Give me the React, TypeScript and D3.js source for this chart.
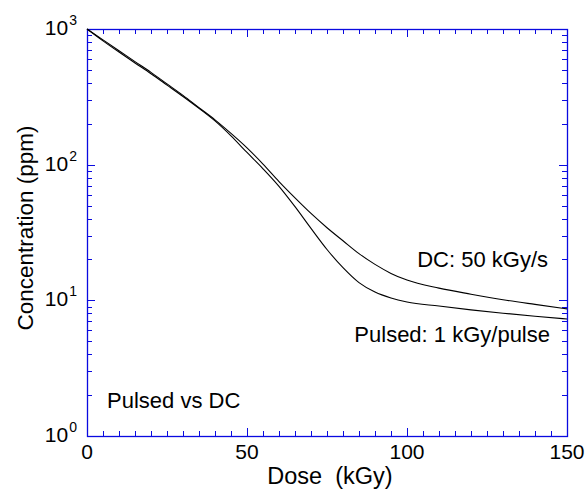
import * as d3 from 'd3';
import { useEffect, useRef } from 'react';

// dose in kGy
const doses = [0, 5, 10, 15, 20, 25, 30, 35, 40, 45, 50, 55, 60, 65, 70, 75, 80, 85, 90, 95, 100, 110, 120, 130, 140, 150];
// concentration in ppm, DC 50 kGy/s
const dcValues = [1000, 832, 692, 575, 479, 394, 324, 263, 214, 170, 133, 101, 75.0, 56.9, 43.7, 34.3, 27.5, 22.1, 18.4, 15.8, 14.1, 12.3, 11.1, 10.1, 9.33, 8.65];
// concentration in ppm, pulsed 1 kGy/pulse
const pulsedValues = [1000, 818, 676, 562, 468, 386, 318, 260, 210, 163, 123, 93.3, 69.2, 49.0, 33.9, 23.7, 17.4, 13.5, 11.5, 10.4, 9.73, 9.08, 8.51, 8.04, 7.64, 7.29];

const xMajor = [0, 50, 100, 150];
const yDecades = [0, 1, 2, 3];

const W = 585;
const H = 496;
const margin = { top: 29, right: 18, bottom: 60, left: 87 };
const AXIS = '#0a0ae0';
const FONT = '"Liberation Sans", Arial, sans-serif';

const App = () => {
  const ref = useRef<SVGSVGElement>(null);

  useEffect(() => {
    if (!ref.current) return;
    const svg = d3.select(ref.current);
    svg.selectAll('*').remove();

    const x = d3.scaleLinear().domain([0, 150]).range([margin.left, W - margin.right]);
    const y = d3.scaleLog().domain([1, 1000]).range([H - margin.bottom, margin.top]);

    const xMinor = d3.range(0, 151, 5).filter(v => !xMajor.includes(v));
    const yMinor: number[] = [];
    [1, 10, 100].forEach(d => d3.range(2, 10).forEach(k => yMinor.push(d * k)));

    const addAxis = (axis: d3.Axis<d3.NumberValue>, transform: string) => {
      const g = svg.append('g').attr('transform', transform).call(axis);
      g.select('.domain').remove();
      g.selectAll('line').attr('stroke', AXIS).attr('shape-rendering', 'crispEdges');
      g.selectAll('text').remove();
    };

    const bottom = `translate(0,${y(1)})`;
    const top = `translate(0,${y(1000)})`;
    const left = `translate(${x(0)},0)`;
    const right = `translate(${x(150)},0)`;

    addAxis(d3.axisBottom(x).tickValues(xMajor).tickSize(-8), bottom);
    addAxis(d3.axisBottom(x).tickValues(xMinor).tickSize(-5), bottom);
    addAxis(d3.axisTop(x).tickValues(xMajor).tickSize(-8), top);
    addAxis(d3.axisTop(x).tickValues(xMinor).tickSize(-5), top);
    addAxis(d3.axisLeft(y).tickValues(yDecades.map(e => 10 ** e)).tickSize(-8), left);
    addAxis(d3.axisLeft(y).tickValues(yMinor).tickSize(-5), left);
    addAxis(d3.axisRight(y).tickValues(yDecades.map(e => 10 ** e)).tickSize(-8), right);
    addAxis(d3.axisRight(y).tickValues(yMinor).tickSize(-5), right);

    // frame
    svg.append('rect')
      .attr('x', x(0) + 0.5)
      .attr('y', y(1000) + 0.5)
      .attr('width', x(150) - x(0))
      .attr('height', y(1) - y(1000))
      .attr('fill', 'none')
      .attr('stroke', AXIS)
      .attr('stroke-width', 1.3);

    // x tick labels
    svg.append('g')
      .selectAll('text')
      .data(xMajor)
      .join('text')
      .attr('x', d => x(d))
      .attr('y', y(1) + 23)
      .attr('text-anchor', 'middle')
      .attr('font-family', FONT)
      .attr('font-size', 21)
      .text(d => d);

    // y tick labels 10^n
    const yl = svg.append('g')
      .selectAll('text')
      .data(yDecades)
      .join('text')
      .attr('x', x(0) - 10)
      .attr('y', d => y(10 ** d) + 6)
      .attr('text-anchor', 'end')
      .attr('font-family', FONT)
      .attr('font-size', 21);
    yl.append('tspan').text('10');
    yl.append('tspan')
      .attr('dx', 1)
      .attr('dy', -10)
      .attr('font-size', 14)
      .text(d => d);

    // axis titles
    svg.append('text')
      .attr('x', 330)
      .attr('y', 484)
      .attr('text-anchor', 'middle')
      .attr('font-family', FONT)
      .attr('font-size', 23.5)
      .style('white-space', 'pre')
      .text('Dose  (kGy)');

    svg.append('text')
      .attr('transform', 'translate(33,228) rotate(-90)')
      .attr('text-anchor', 'middle')
      .attr('font-family', FONT)
      .attr('font-size', 22.5)
      .text('Concentration (ppm)');

    // curves
    const line = d3.line<number>()
      .x((_, i) => x(doses[i]))
      .y(d => y(d))
      .curve(d3.curveMonotoneX);

    [dcValues, pulsedValues].forEach(vals => {
      svg.append('path')
        .datum(vals)
        .attr('d', line)
        .attr('fill', 'none')
        .attr('stroke', '#000')
        .attr('stroke-width', 1.1);
    });

    // annotations
    const notes = [
      { text: 'DC: 50 kGy/s', x: 548, y: 267, anchor: 'end' },
      { text: 'Pulsed: 1 kGy/pulse', x: 550, y: 342, anchor: 'end' },
      { text: 'Pulsed vs DC', x: 107, y: 408, anchor: 'start' },
    ];
    svg.append('g')
      .selectAll('text')
      .data(notes)
      .join('text')
      .attr('x', d => d.x)
      .attr('y', d => d.y)
      .attr('text-anchor', d => d.anchor)
      .attr('font-family', FONT)
      .attr('font-size', 22)
      .text(d => d.text);
  }, []);

  return (
    <svg
      ref={ref}
      width={W}
      height={H}
      style={{ position: 'absolute', left: 0, top: 0, background: '#fff' }}
    />
  );
};

export default App;
